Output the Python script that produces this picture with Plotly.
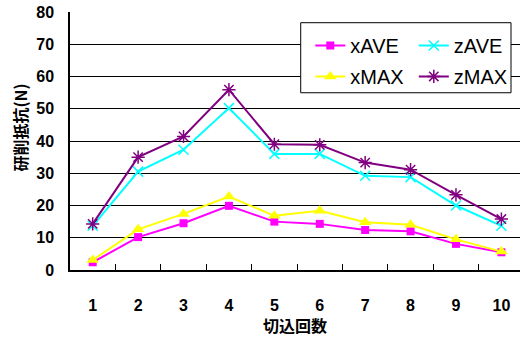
import plotly.graph_objects as go

categories = ["1", "2", "3", "4", "5", "6", "7", "8", "9", "10"]
x_ave = [2.4, 10.2, 14.5, 19.9, 15.0, 14.3, 12.4, 12.0, 8.1, 5.5]
x_max = [3.1, 12.6, 17.4, 22.8, 16.8, 18.4, 14.8, 14.0, 9.5, 5.7]
z_ave = [13.7, 30.5, 37.3, 50.2, 36.0, 36.0, 29.2, 28.8, 20.0, 13.7]
z_max = [14.3, 35.0, 41.4, 55.9, 39.0, 38.8, 33.3, 31.1, 23.3, 15.8]
y_ticks = [0, 10, 20, 30, 40, 50, 60, 70, 80]

series = [
    ("xAVE", x_ave, "#FF00FF", dict(symbol="square", size=8, color="#FF00FF"), "legend"),
    ("xMAX", x_max, "#FFFF00", dict(symbol="triangle-up", size=11, color="#FFFF00"), "legend"),
    ("zAVE", z_ave, "#00FFFF", dict(symbol="x-thin-open", size=10, color="#00FFFF",
                                    line=dict(color="#00FFFF", width=1.5)), "legend2"),
    ("zMAX", z_max, "#800080", dict(symbol="asterisk-open", size=11, color="#800080",
                                    line=dict(color="#800080", width=1.5)), "legend2"),
]

fig = go.Figure()
for name, vals, col, mk, lg in series:
    fig.add_trace(go.Scatter(
        x=categories, y=vals, name=name, mode="lines+markers",
        line=dict(color=col, width=2), marker=mk, legend=lg, legendgroup=name,
    ))

font_lat = "Liberation Sans, Arial, sans-serif"
font_cjk = "Noto Sans CJK JP, sans-serif"

leg_common = dict(
    orientation="v", yanchor="top", xanchor="left",
    bgcolor="rgba(0,0,0,0)", borderwidth=0,
    font=dict(family=font_lat, size=20, color="black"),
    tracegroupgap=2,
)

fig.update_layout(
    width=520, height=347,
    margin=dict(l=70, r=0, t=12, b=77),
    paper_bgcolor="white", plot_bgcolor="white",
    showlegend=True,
    legend=dict(x=0.534, y=0.946, **leg_common),
    legend2=dict(x=0.764, y=0.946, **leg_common),
    shapes=[
        dict(type="rect", xref="paper", yref="paper", x0=0.5127, x1=0.98,
             y0=0.687, y1=0.9585, fillcolor="white", layer="above",
             line=dict(color="black", width=1)),
    ],
    xaxis=dict(
        type="category", range=[-0.5, 9.41],
        tickson="boundaries", ticks="inside", ticklen=6, tickcolor="black", tickwidth=1,
        showgrid=False, showline=True, linecolor="black", linewidth=1.5,
        tickfont=dict(family=font_lat, size=16, color="black", weight="bold"),
        ticklabelstandoff=20,
    ),
    yaxis=dict(
        range=[0, 80], tickvals=y_ticks, ticks="", showgrid=True,
        gridcolor="black", gridwidth=1, zeroline=False,
        showline=True, linecolor="black", linewidth=1.5,
        tickfont=dict(family=font_lat, size=16, color="black", weight="bold"),
        ticklabelstandoff=11,
    ),
    annotations=[
        dict(text="研削抵抗(N)", xref="paper", yref="paper", x=-0.11, y=0.55,
             textangle=-90, showarrow=False, xanchor="center", yanchor="middle",
             font=dict(family=font_cjk, size=16, color="black", weight="bold")),
        dict(text="切込回数", xref="paper", yref="paper", x=0.5, y=-0.213,
             showarrow=False, xanchor="center", yanchor="middle",
             font=dict(family=font_cjk, size=16, color="black", weight="bold")),
    ],
)

fig.write_html("out.html")
